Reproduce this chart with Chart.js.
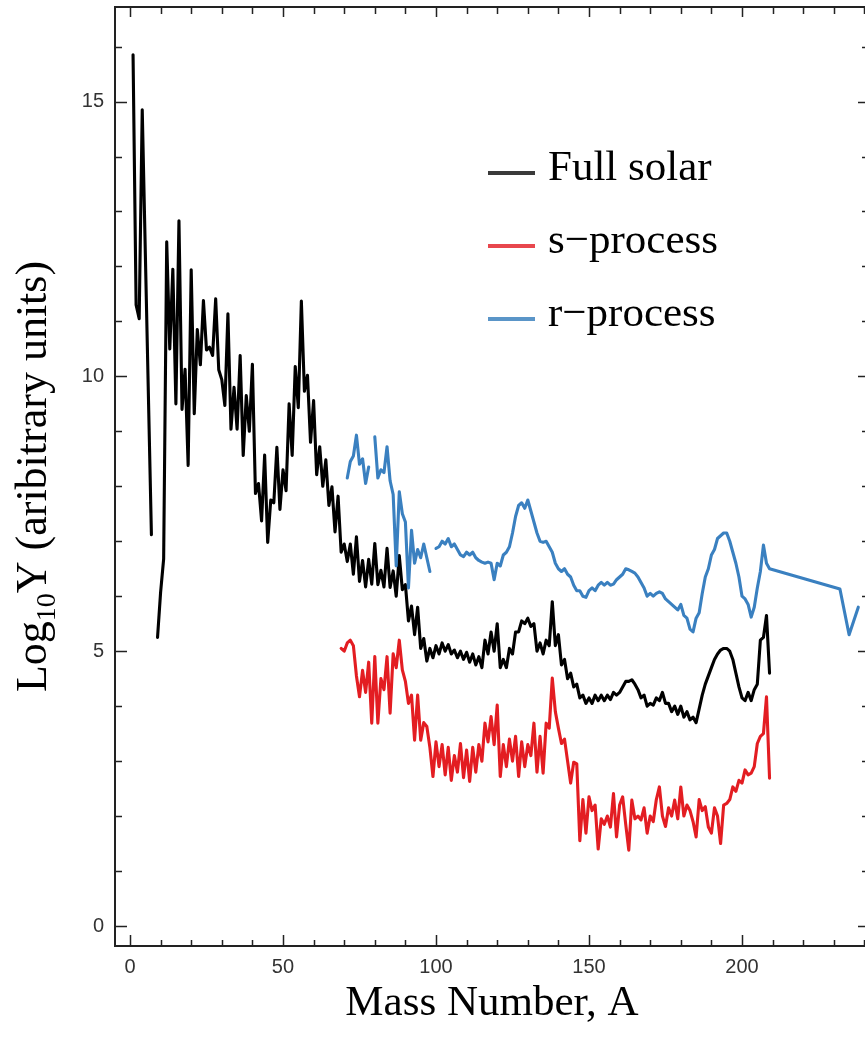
<!DOCTYPE html>
<html><head><meta charset="utf-8">
<script src="https://cdn.jsdelivr.net/npm/chart.js@4.4.1/dist/chart.umd.min.js"></script>
<style>
html,body{margin:0;padding:0;background:#fff;overflow:hidden;width:865px;height:1051px}
#wrap{position:relative;width:880px;height:1051px}
</style></head><body><div id="wrap"><canvas id="c"></canvas></div>
<script>
// ---------- DATA (log10 abundance, arbitrary units, vs mass number A) ----------
// Full solar: light nuclei (A=5,6 not plotted; A=8 is a gap)
const solarLightA = [1, 2, 3, 4, 7];
const solarLightY = [15.85, 11.3, 11.05, 14.85, 7.12];
const solarGapA = 8;
// Full solar from A=9 to A=209
const solarStartA = 9;
const solarY = [
  5.25, 6.07, 6.68, 12.45, 10.5, 11.95, 9.5, 12.83, 9.4, 10.13,      // 9-18
  8.38, 11.94, 9.32, 10.85, 10.21, 11.38, 10.48, 10.53, 10.38, 11.41, // 19-28
  10.12, 9.94, 9.47, 11.14, 9.04, 9.8, 9.04, 10.38, 8.56, 9.65,       // 29-38
  9.0, 10.22, 7.87, 8.05, 7.37, 8.57, 6.98, 7.75, 7.7, 8.71,          // 39-48
  7.58, 8.3, 7.92, 9.5, 8.56, 10.18, 9.43, 11.37, 9.73, 10.02,        // 49-58
  8.8, 9.56, 8.21, 8.72, 8.0, 8.48, 7.65, 7.99, 7.17, 7.82,           // 59-68
  6.8, 6.95, 6.63, 6.95, 6.4, 7.08, 6.27, 6.65, 6.17, 6.67,           // 69-78
  6.22, 6.96, 6.21, 6.47, 6.17, 6.87, 6.16, 6.46, 6.0, 6.74,          // 79-88
  6.12, 6.21, 5.55, 5.82, 5.3, 5.8, 5.05, 5.23, 4.82, 5.05,           // 89-98
  4.88, 5.1, 4.95, 5.15, 5.0, 5.12, 4.95, 5.02, 4.88, 5.0,            // 99-108
  4.85, 4.98, 4.8, 4.95, 4.75, 4.9, 4.7, 5.2, 4.95, 5.35,             // 109-118
  5.0, 5.5, 4.7, 4.85, 4.7, 5.05, 4.95, 5.35, 5.35, 5.55,             // 119-128
  5.5, 5.6, 5.45, 5.5, 5.0, 5.15, 4.95, 5.2, 5.1, 5.9,                // 129-138
  5.1, 5.3, 4.75, 4.85, 4.5, 4.6, 4.35, 4.4, 4.15, 4.2,               // 139-148
  4.05, 4.15, 4.05, 4.2, 4.1, 4.2, 4.1, 4.2, 4.12, 4.25,              // 149-158
  4.2, 4.25, 4.35, 4.45, 4.45, 4.48, 4.4, 4.3, 4.15, 4.2,             // 159-168
  4.0, 4.05, 4.02, 4.15, 4.1, 4.25, 4.05, 4.05, 3.9, 4.0,             // 169-178
  3.85, 4.0, 3.8, 3.9, 3.75, 3.8, 3.7, 3.95, 4.2, 4.4,                // 179-188
  4.55, 4.7, 4.85, 4.95, 5.02, 5.05, 5.05, 5.0, 4.85, 4.6,            // 189-198
  4.35, 4.15, 4.1, 4.25, 4.1, 4.3, 4.4, 5.2, 5.25, 5.65,              // 199-208
  4.6                                                                  // 209
];
// s-process from A=69 to A=209
const sStartA = 69;
const sY = [
  5.05, 5.0, 5.15, 5.2, 5.1, 4.55, 4.17, 4.65, 4.25, 4.8,             // 69-78
  3.69, 4.9, 3.69, 4.5, 4.3, 4.9, 3.87, 4.95, 4.7, 5.2,               // 79-88
  4.66, 4.45, 4.05, 4.2, 3.38, 4.2, 3.38, 3.7, 3.63, 3.25,            // 89-98
  2.72, 3.35, 2.9, 3.3, 2.75, 3.25, 2.65, 3.1, 2.8, 3.32,             // 99-108
  2.7, 3.2, 2.63, 3.25, 2.8, 3.3, 3.0, 3.69, 3.35, 3.81,              // 109-118
  3.3, 4.02, 2.72, 3.3, 2.9, 3.4, 3.0, 3.45, 2.72, 3.35,              // 119-128
  2.9, 3.3, 3.1, 3.69, 2.8, 3.45, 2.78, 3.69, 3.6, 4.51,              // 129-138
  3.9, 3.6, 3.32, 3.4, 3.0, 2.6, 2.98, 2.95, 1.55, 2.3,               // 139-148
  1.69, 2.35, 2.1, 2.2, 1.4, 1.95, 1.85, 2.0, 1.8, 2.41,              // 149-158
  1.62, 2.2, 2.35, 1.85, 1.38, 2.29, 1.95, 2.0, 1.93, 2.15,           // 159-168
  1.69, 2.0, 1.9, 2.3, 2.53, 2.0, 1.81, 2.15, 2.0, 2.29,              // 169-178
  1.95, 2.53, 2.0, 2.2, 2.1, 1.9, 1.62, 2.3, 2.1, 2.17,               // 179-188
  1.8, 1.69, 2.15, 2.0, 1.5, 2.2, 2.23, 2.3, 2.53, 2.45,              // 189-198
  2.65, 2.6, 2.84, 2.75, 2.78, 2.9, 3.32, 3.45, 3.5, 4.17,            // 199-208
  2.69                                                                 // 209
];
// r-process from A=71 to A=209 (null = break in the curve)
const rStartA = 71;
const rY = [
  8.15, 8.45, 8.55, 8.93, 8.4, 8.5, 8.05, 8.35, null, 8.9,            // 71-80
  8.15, 8.3, 8.25, 8.72, 8.1, 7.85, 6.55, 7.9, 7.5, 7.35,             // 81-90
  6.15, 7.2, 6.6, 6.85, 6.7, 6.95, 6.7, 6.45, null, 6.87,             // 91-100
  6.9, 7.0, 6.95, 7.05, 6.9, 6.95, 6.85, 6.75, 6.72, 6.8,             // 101-110
  6.75, 6.8, 6.7, 6.65, 6.62, 6.6, 6.62, 6.6, 6.3, 6.6,               // 111-120
  6.55, 6.75, 6.8, 6.9, 7.15, 7.45, 7.65, 7.7, 7.6, 7.75,             // 121-130
  7.55, 7.35, 7.15, 7.0, 6.98, 7.0, 6.9, 6.8, 6.6, 6.5,               // 131-140
  6.45, 6.5, 6.4, 6.35, 6.2, 6.1, 6.1, 6.0, 5.98, 6.1,                // 141-150
  6.15, 6.1, 6.2, 6.25, 6.2, 6.25, 6.2, 6.22, 6.3, 6.35,              // 151-160
  6.4, 6.5, 6.48, 6.45, 6.42, 6.35, 6.25, 6.15, 6.0, 6.05,            // 161-170
  6.0, 6.05, 6.08, 6.05, 5.95, 5.9, 5.85, 5.8, 5.75, 5.85,            // 171-180
  5.65, 5.6, 5.4, 5.35, 5.6, 5.7, 6.05, 6.35, 6.5, 6.75,              // 181-190
  6.85, 7.05, 7.1, 7.15, 7.15, 7.0, 6.8, 6.6, 6.35, 6.0,              // 191-200
  5.95, 5.85, 5.62, 5.8, 6.15, 6.45, 6.93, 6.6, 6.5                   // 201-209
];
// r-process actinides
const rActA = [232, 235, 238];
const rActY = [6.13, 5.3, 5.8];

// axis tick labels
const xTickValues = [0, 50, 100, 150, 200];
const yTickValues = [0, 5, 10, 15];
const seriesLabels = ['Full solar', 's\u2212process', 'r\u2212process'];

// ---------- build ----------
const X_MIN = -4.9, X_MAX = 241.5, Y_MIN = -0.364, Y_MAX = 16.72;
function pts(startA, vals) { return vals.map((v, i) => ({x: startA + i, y: v})); }
const solarData = solarLightA.map((a, i) => ({x: a, y: solarLightY[i]}))
  .concat([{x: solarGapA, y: null}], pts(solarStartA, solarY));
const sData = pts(sStartA, sY);
const rData = pts(rStartA, rY).concat(rActA.map((a, i) => ({x: a, y: rActY[i]})));

const COLORS = ['#000000', '#e31d22', '#3a80c0'];
const LEGEND_COLORS = ['#3a3a3a', '#e8474d', '#5a95c8'];

const frameTicks = {
  id: 'frameTicks',
  beforeDatasetsDraw(chart) {
    const {ctx, chartArea: a} = chart;
    const xs = chart.scales.x, ys = chart.scales.y;
    ctx.save();
    ctx.strokeStyle = '#222';
    ctx.lineWidth = 1.5;
    ctx.beginPath();
    for (let v = 0; v <= 240; v += 10) {
      const p = Math.round(xs.getPixelForValue(v)) + 0.5;
      const major = v % 50 === 0;
      ctx.moveTo(p, a.bottom); ctx.lineTo(p, a.bottom - (major ? 11 : 6));
      ctx.moveTo(p, a.top); ctx.lineTo(p, a.top + (major ? 10 : 7));
    }
    for (let v = 0; v <= 16; v++) {
      const p = Math.round(ys.getPixelForValue(v)) + 0.5;
      const major = v % 5 === 0;
      ctx.moveTo(a.left, p); ctx.lineTo(a.left + (major ? 12 : 7), p);
      ctx.moveTo(a.right, p); ctx.lineTo(a.right - (major ? 11 : 7), p);
    }
    ctx.stroke();
    ctx.lineWidth = 2;
    ctx.strokeRect(a.left, a.top, a.right - a.left, a.bottom - a.top);
    ctx.restore();
  },
  afterDraw(chart) {
    const {ctx, chartArea: a} = chart;
    ctx.save();
    // y axis title with subscript
    ctx.translate(46, (a.top + a.bottom) / 2);
    ctx.rotate(-Math.PI / 2);
    ctx.fillStyle = '#000';
    ctx.textBaseline = 'alphabetic';
    ctx.textAlign = 'left';
    const big = '44px "Liberation Serif"', small = '28px "Liberation Serif"';
    ctx.font = big;
    const w1 = ctx.measureText('Log').width;
    const t3 = 'Y (aribitrary units)';
    const w3 = ctx.measureText(t3).width;
    ctx.font = small;
    const w2 = ctx.measureText('10').width;
    let x = -(w1 + w2 + w3) / 2;
    ctx.font = big; ctx.fillText('Log', x, 0); x += w1;
    ctx.font = small; ctx.fillText('10', x, 9); x += w2;
    ctx.font = big; ctx.fillText(t3, x, 0);
    ctx.restore();

    // legend
    ctx.save();
    ctx.font = '43px "Liberation Serif"';
    ctx.textBaseline = 'alphabetic';
    ctx.textAlign = 'left';
    chart.data.datasets.forEach((ds, i) => {
      const y = 173 + i * 73;
      ctx.strokeStyle = LEGEND_COLORS[i];
      ctx.lineWidth = 4;
      ctx.beginPath(); ctx.moveTo(488, y); ctx.lineTo(535, y); ctx.stroke();
      ctx.fillStyle = '#000';
      ctx.fillText(ds.label, 548, y + 7);
    });
    ctx.restore();
  }
};

new Chart(document.getElementById('c'), {
  type: 'line',
  data: {
    datasets: [
      {label: seriesLabels[0], data: solarData, borderColor: COLORS[0], order: 3},
      {label: seriesLabels[1], data: sData, borderColor: COLORS[1], order: 2},
      {label: seriesLabels[2], data: rData, borderColor: COLORS[2], order: 1}
    ]
  },
  options: {
    responsive: true,
    maintainAspectRatio: false,
    devicePixelRatio: 1,
    animation: false,
    layout: {padding: {left: 0, top: 7, right: 11, bottom: 0}},
    elements: {
      point: {radius: 0},
      line: {borderWidth: 3.1, tension: 0, fill: false, borderJoinStyle: 'round', borderCapStyle: 'round'}
    },
    plugins: {legend: {display: false}, tooltip: {enabled: false}},
    scales: {
      x: {
        type: 'linear', min: X_MIN, max: X_MAX,
        afterBuildTicks: s => { s.ticks = xTickValues.map(v => ({value: v})); },
        afterFit: s => { s.height = 105; s.paddingLeft = 0; s.paddingRight = 0; },
        grid: {display: false, drawTicks: false},
        border: {display: false},
        ticks: {padding: 9, color: '#333', maxRotation: 0, autoSkip: false,
                font: {family: 'Liberation Sans', size: 20}},
        title: {display: true, text: 'Mass Number, A', color: '#000',
                font: {family: 'Liberation Serif', size: 43}, padding: {top: 0, bottom: 21}}
      },
      y: {
        type: 'linear', min: Y_MIN, max: Y_MAX,
        afterBuildTicks: s => { s.ticks = yTickValues.map(v => ({value: v})); },
        afterFit: s => { s.width = 115; s.paddingTop = 0; s.paddingBottom = 0; },
        grid: {display: false, drawTicks: false},
        border: {display: false},
        ticks: {padding: 11, color: '#333', autoSkip: false,
                font: {family: 'Liberation Sans', size: 20}},
        title: {display: false}
      }
    }
  },
  plugins: [frameTicks]
});
</script></body></html>
